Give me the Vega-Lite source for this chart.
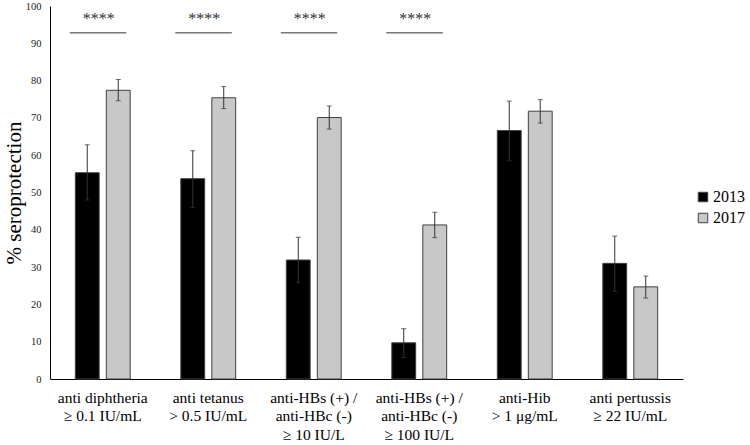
{
  "$schema": "https://vega.github.io/schema/vega-lite/v6.json",
  "autosize": {"type": "none"},
  "width": 633,
  "height": 373,
  "padding": {"left": 50, "top": 6, "right": 67, "bottom": 66},
  "config": {
    "font": "Liberation Serif",
    "axis": {"labelFont": "Liberation Serif", "titleFont": "Liberation Serif", "grid": false, "ticks": false, "domainColor": "#000000"},
    "axisX": {"labelAngle": 0, "labelFontSize": 15.5, "labelColor": "#000000", "labelPadding": 11, "labelLineHeight": 18.5, "labelBaseline": "top"},
    "axisY": {"titleFontSize": 21, "titleFontWeight": "normal", "titleColor": "#000000", "titlePadding": 1, "labelOverlap": false, "labelFontSize": 10.5, "labelColor": "#222222", "labelPadding": 9, "tickCount": 11},
    "legend": {"labelFont": "Liberation Serif"},
    "text": {"font": "Liberation Serif"},
    "view": {"stroke": null}
  },
  "datasets": {
    "bars": [
      {"cat": "anti diphtheria|≥ 0.1 IU/mL", "year": "2013", "value": 55.3, "lo": 48.0, "hi": 62.8},
      {"cat": "anti diphtheria|≥ 0.1 IU/mL", "year": "2017", "value": 77.4, "lo": 74.6, "hi": 80.3},
      {"cat": "anti tetanus|> 0.5 IU/mL", "year": "2013", "value": 53.7, "lo": 46.0, "hi": 61.2},
      {"cat": "anti tetanus|> 0.5 IU/mL", "year": "2017", "value": 75.4, "lo": 72.5, "hi": 78.4},
      {"cat": "anti-HBs (+) /|anti-HBc (-)|≥ 10 IU/L", "year": "2013", "value": 31.9, "lo": 25.8, "hi": 38.0},
      {"cat": "anti-HBs (+) /|anti-HBc (-)|≥ 10 IU/L", "year": "2017", "value": 70.1, "lo": 67.0, "hi": 73.2},
      {"cat": "anti-HBs (+) /|anti-HBc (-)|≥ 100 IU/L", "year": "2013", "value": 9.7, "lo": 5.8, "hi": 13.5},
      {"cat": "anti-HBs (+) /|anti-HBc (-)|≥ 100 IU/L", "year": "2017", "value": 41.3, "lo": 37.9, "hi": 44.7},
      {"cat": "anti-Hib|> 1 μg/mL", "year": "2013", "value": 66.6, "lo": 58.5, "hi": 74.5},
      {"cat": "anti-Hib|> 1 μg/mL", "year": "2017", "value": 71.8, "lo": 68.6, "hi": 74.9},
      {"cat": "anti pertussis|≥ 22 IU/mL", "year": "2013", "value": 31.0, "lo": 23.5, "hi": 38.3},
      {"cat": "anti pertussis|≥ 22 IU/mL", "year": "2017", "value": 24.7, "lo": 21.7, "hi": 27.6}
    ],
    "sig": [
      {"cat": "anti diphtheria|≥ 0.1 IU/mL", "line": 92.8, "star": 96.5, "label": "****"},
      {"cat": "anti tetanus|> 0.5 IU/mL", "line": 92.8, "star": 96.5, "label": "****"},
      {"cat": "anti-HBs (+) /|anti-HBc (-)|≥ 10 IU/L", "line": 92.8, "star": 96.5, "label": "****"},
      {"cat": "anti-HBs (+) /|anti-HBc (-)|≥ 100 IU/L", "line": 92.8, "star": 96.5, "label": "****"}
    ]
  },
  "layer": [
    {
      "data": {"name": "bars"},
      "mark": {"type": "bar", "stroke": "#404040", "strokeWidth": 1},
      "encoding": {
        "x": {
          "field": "cat", "type": "nominal", "sort": null,
          "scale": {"paddingInner": 0.48, "paddingOuter": 0.24},
          "axis": {"title": null, "labelExpr": "split(datum.label, '|')"}
        },
        "xOffset": {"field": "year", "type": "nominal", "scale": {"paddingInner": 0.23}},
        "y": {
          "field": "value", "type": "quantitative",
          "scale": {"domain": [0, 100], "nice": false},
          "axis": {"title": "% seroprotection", "values": [0,10,20,30,40,50,60,70,80,90,100]}
        },
        "color": {
          "field": "year", "type": "nominal",
          "scale": {"domain": ["2013", "2017"], "range": ["#000000", "#c8c8c8"]},
          "legend": {
            "title": null, "orient": "none", "legendX": 645, "legendY": 183,
            "symbolType": "square", "symbolSize": 90, "symbolStrokeColor": "#404040", "symbolStrokeWidth": 1,
            "labelFontSize": 16, "labelColor": "#000000", "rowPadding": 5, "labelOffset": 2
          }
        }
      }
    },
    {
      "data": {"name": "bars"},
      "mark": {"type": "rule", "color": "#333333", "strokeWidth": 1},
      "encoding": {
        "x": {"field": "cat", "type": "nominal", "sort": null, "axis": {"title": null, "labelExpr": "split(datum.label, '|')"}},
        "xOffset": {"field": "year", "type": "nominal"},
        "y": {"field": "lo", "type": "quantitative", "axis": {"title": "% seroprotection", "values": [0,10,20,30,40,50,60,70,80,90,100]}},
        "y2": {"field": "hi"}
      }
    },
    {
      "data": {"name": "bars"},
      "mark": {"type": "tick", "color": "#333333", "size": 5, "thickness": 1, "orient": "horizontal"},
      "encoding": {
        "x": {"field": "cat", "type": "nominal", "sort": null, "axis": {"title": null, "labelExpr": "split(datum.label, '|')"}},
        "xOffset": {"field": "year", "type": "nominal"},
        "y": {"field": "lo", "type": "quantitative", "axis": {"title": "% seroprotection", "values": [0,10,20,30,40,50,60,70,80,90,100]}}
      }
    },
    {
      "data": {"name": "bars"},
      "mark": {"type": "tick", "color": "#333333", "size": 5, "thickness": 1, "orient": "horizontal"},
      "encoding": {
        "x": {"field": "cat", "type": "nominal", "sort": null, "axis": {"title": null, "labelExpr": "split(datum.label, '|')"}},
        "xOffset": {"field": "year", "type": "nominal"},
        "y": {"field": "hi", "type": "quantitative", "axis": {"title": "% seroprotection", "values": [0,10,20,30,40,50,60,70,80,90,100]}}
      }
    },
    {
      "data": {"name": "sig"},
      "mark": {"type": "rule", "color": "#333333", "strokeWidth": 1},
      "encoding": {
        "x": {"field": "cat", "type": "nominal", "sort": null, "bandPosition": -0.1, "axis": {"title": null, "labelExpr": "split(datum.label, '|')"}},
        "x2": {"field": "cat", "bandPosition": 0.93},
        "y": {"field": "line", "type": "quantitative", "axis": {"title": "% seroprotection", "values": [0,10,20,30,40,50,60,70,80,90,100]}}
      }
    },
    {
      "data": {"name": "sig"},
      "mark": {"type": "text", "fontSize": 16, "color": "#333333", "baseline": "middle", "dx": -4, "font": "Liberation Serif"},
      "encoding": {
        "x": {"field": "cat", "type": "nominal", "sort": null, "axis": {"title": null, "labelExpr": "split(datum.label, '|')"}},
        "y": {"field": "star", "type": "quantitative", "axis": {"title": "% seroprotection", "values": [0,10,20,30,40,50,60,70,80,90,100]}},
        "text": {"field": "label"}
      }
    }
  ]
}
